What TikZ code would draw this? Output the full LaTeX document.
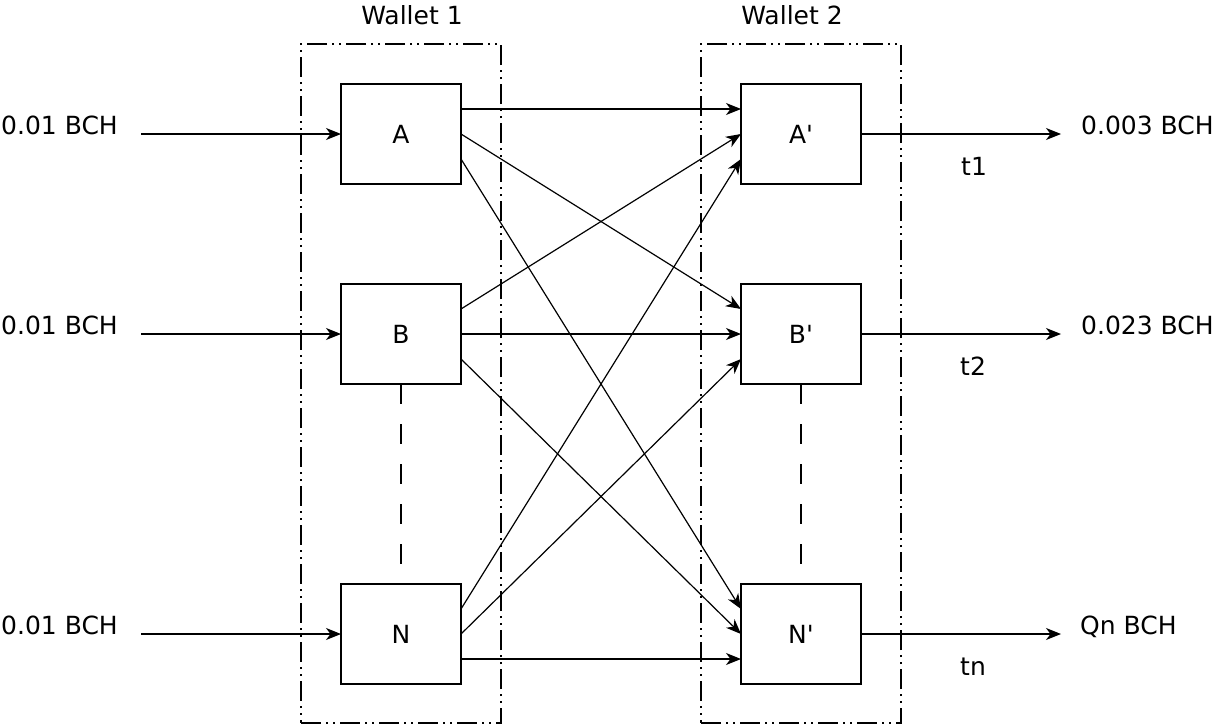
\documentclass[tikz,border=0pt]{standalone}
\usepackage{fontspec}
\setmainfont[Ligatures=TeXOff]{DejaVu Sans}
\usetikzlibrary{arrows.meta}
\begin{document}
\begin{tikzpicture}[x=1pt,y=-1pt,
  txt/.style={inner sep=0pt,font=\fontsize{25}{30}\selectfont},
  box/.style={draw,line width=1.5pt,minimum width=120pt,minimum height=100pt,inner sep=0pt,outer sep=0pt,font=\fontsize{25}{30}\selectfont},
  wallet/.style={draw,line width=1.5pt,minimum width=200pt,minimum height=679pt,inner sep=0pt,outer sep=0pt,
    dash pattern=on 20pt off 5pt on 2pt off 5pt on 2pt off 5pt},
  conn/.style={line width=1.2pt,-{Stealth[length=15pt,width=12pt,inset=4.5pt]}},
  vdash/.style={line width=1.5pt,dash pattern=on 20pt off 20pt}]
\useasboundingbox (0,0) rectangle (1218,726);
% wallets
\node[wallet] (W1) at (401,383.5) {};
\node[wallet] (W2) at (801,383.5) {};
\node[txt,anchor=base] (W1lab) at (412,24) {Wallet 1};
\node[txt,anchor=base] (W2lab) at (792,24) {Wallet 2};
% boxes
\node[box] (A) at (401,134) {A};
\node[box] (B) at (401,334) {B};
\node[box] (N) at (401,634) {N};
\node[box] (A2) at (801,134) {A'};
\node[box] (B2) at (801,334) {B'};
\node[box] (N2) at (801,634) {N'};
% dashed continuation
\coordinate (Bend) at (401,564);
\coordinate (B2end) at (801,564);
\draw[vdash] (B.south) -- (Bend);
\draw[vdash] (B2.south) -- (B2end);
% inputs
\coordinate (inA) at (141,134);
\coordinate (inB) at (141,334);
\coordinate (inN) at (141,634);
\draw[conn] (inA) -- (A.west);
\draw[conn] (inB) -- (B.west);
\draw[conn] (inN) -- (N.west);
\node[txt,anchor=base west] (lA) at (1,134) {0.01 BCH};
\node[txt,anchor=base west] (lB) at (1,334) {0.01 BCH};
\node[txt,anchor=base west] (lN) at (1,634) {0.01 BCH};
% outputs
\coordinate (outA) at (1061,134);
\coordinate (outB) at (1061,334);
\coordinate (outN) at (1061,634);
\draw[conn] (A2.east) -- (outA);
\draw[conn] (B2.east) -- (outB);
\draw[conn] (N2.east) -- (outN);
\node[txt,anchor=base west] (rA) at (1081,134) {0.003 BCH};
\node[txt,anchor=base west] (rB) at (1081,334) {0.023 BCH};
\node[txt,anchor=base west] (rN) at (1080,634) {Qn BCH};
\node[txt,anchor=base west] (t1) at (961,175) {t1};
\node[txt,anchor=base west] (t2) at (960,375) {t2};
\node[txt,anchor=base west] (tn) at (960,675) {tn};
% cross connections
\draw[conn] ([yshift=25pt]A.east) -- ([yshift=25pt]A2.west);
\draw[conn] (A.east) -- ([yshift=25pt]B2.west);
\draw[conn] ([yshift=-25pt]A.east) -- ([yshift=25pt]N2.west);
\draw[conn] ([yshift=25pt]B.east) -- (A2.west);
\draw[conn] (B.east) -- (B2.west);
\draw[conn] ([yshift=-25pt]B.east) -- (N2.west);
\draw[conn] ([yshift=25pt]N.east) -- ([yshift=-25pt]A2.west);
\draw[conn] (N.east) -- ([yshift=-25pt]B2.west);
\draw[conn] ([yshift=-25pt]N.east) -- ([yshift=-25pt]N2.west);
\end{tikzpicture}
\end{document}
